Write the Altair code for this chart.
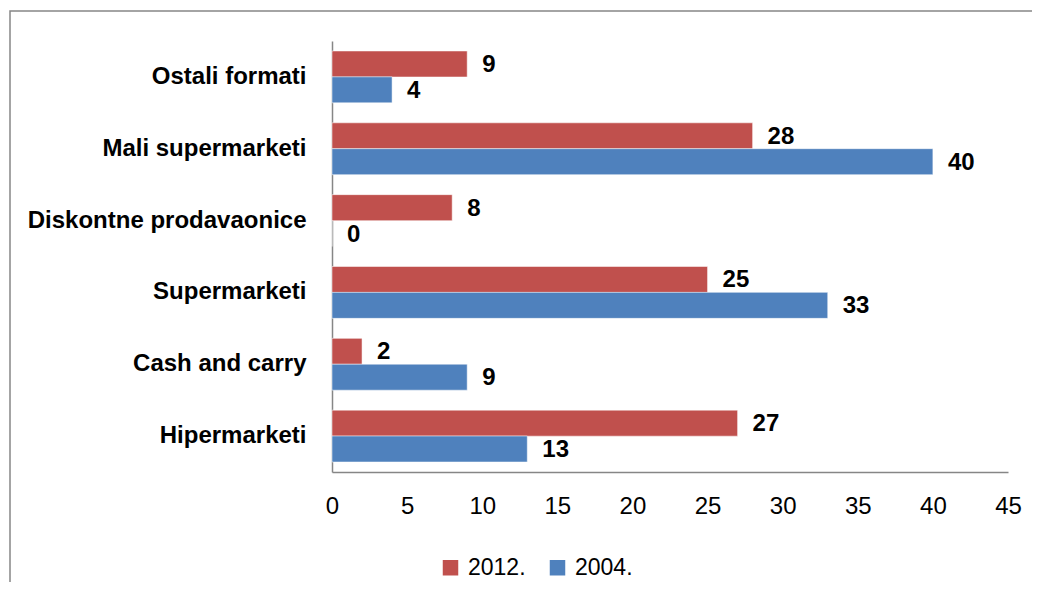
import altair as alt
import pandas as pd

categories = ["Ostali formati", "Mali supermarketi", "Diskontne prodavaonice",
              "Supermarketi", "Cash and carry", "Hipermarketi"]
series = ["2012.", "2004."]
values_2012 = [9, 28, 8, 25, 2, 27]
values_2004 = [4, 40, 0, 33, 9, 13]
colors = ["#C0504D", "#4F81BD"]
x_ticks = [0, 5, 10, 15, 20, 25, 30, 35, 40, 45]

rows = []
for c, v in zip(categories, values_2012):
    rows.append({"cat": c, "year": "2012.", "val": v})
for c, v in zip(categories, values_2004):
    rows.append({"cat": c, "year": "2004.", "val": v})
df = pd.DataFrame(rows)

FONT = "Liberation Sans"

y_enc = alt.Y("cat:N", sort=categories,
              scale=alt.Scale(paddingInner=0.28, paddingOuter=0.14),
              axis=alt.Axis(title=None, ticks=False, labelFont=FONT,
                            labelFontSize=24, labelFontWeight="bold", labelColor="black",
                            labelPadding=26, domainColor="#868686", domainWidth=1.5,
                            labelLimit=400))
yoff = alt.YOffset("year:N", sort=series, scale=alt.Scale(paddingInner=0, paddingOuter=0))
x_enc = alt.X("val:Q", scale=alt.Scale(domain=[0, 45], nice=False),
              axis=alt.Axis(title=None, values=x_ticks, ticks=False, grid=False,
                            labelFont=FONT, labelFontSize=24, labelColor="black",
                            labelPadding=22, domainColor="#868686", domainWidth=1.5,
                            labelFlush=False))

bars = alt.Chart(df).mark_bar(size=26, stroke="white", strokeWidth=0.5).encode(
    y=y_enc, yOffset=yoff, x=x_enc,
    color=alt.Color("year:N", sort=series,
                    scale=alt.Scale(domain=series, range=colors),
                    legend=alt.Legend(title=None, orient="none", direction="horizontal",
                                      legendX=107, legendY=515, symbolType="square",
                                      symbolSize=240, symbolStrokeWidth=0,
                                      labelFont=FONT, labelFontSize=23, labelColor="black",
                                      labelOffset=6, columnPadding=20, padding=0)),
)

labels = alt.Chart(df).mark_text(align="left", baseline="middle", dx=15, dy=1,
                                 font=FONT, fontSize=24, fontWeight="bold",
                                 color="black").encode(
    y=alt.Y("cat:N", sort=categories), yOffset=yoff, x="val:Q", text="val:Q")

border = alt.Chart(alt.Data(values=[{"a": 1}])).mark_rect(
    filled=False, stroke="#868686", strokeWidth=1.5).encode(
    x=alt.value(-322), x2=alt.value(1200), y=alt.value(-30), y2=alt.value(1200))

chart = alt.layer(border, bars, labels).properties(
    width=676, height=431,
    autosize=alt.AutoSizeParams(type="none"),
    padding={"left": 324, "top": 33, "right": 24, "bottom": 110},
).configure_view(stroke=None)

chart.save("out.html", embed_options={"renderer": "svg", "actions": False})
